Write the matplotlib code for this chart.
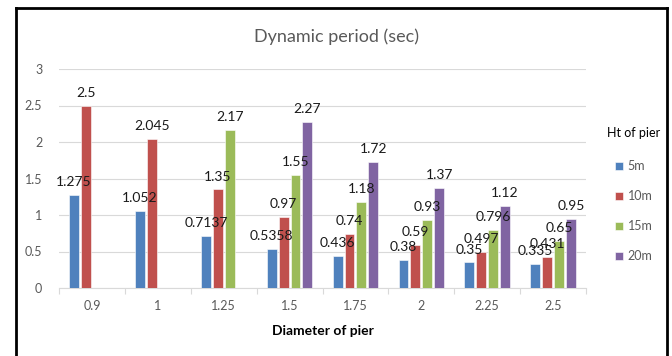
import numpy as np
import matplotlib
matplotlib.use('Agg')
import matplotlib.pyplot as plt
from matplotlib.lines import Line2D

# Dynamic period of the pier for each diameter, grouped by pier height
diameters = ['0.9', '1', '1.25', '1.5', '1.75', '2', '2.25', '2.5']
ht_labels = ['5m', '10m', '15m', '20m']
period_5m = [1.275, 1.052, 0.7137, 0.5358, 0.436, 0.38, 0.35, 0.335]
period_10m = [2.5, 2.045, 1.35, 0.97, 0.74, 0.59, 0.497, 0.431]
period_15m = [np.nan, np.nan, 2.17, 1.55, 1.18, 0.93, 0.796, 0.65]
period_20m = [np.nan, np.nan, np.nan, 2.27, 1.72, 1.37, 1.12, 0.95]

COLORS = ['#4F81BD', '#C0504D', '#9BBB59', '#8064A2']
GREY_TEXT = '#595959'
GRID = '#D9D9D9'

plt.rcParams['font.family'] = ['Lato', 'DejaVu Sans']

fig = plt.figure(figsize=(6.72, 3.56), dpi=100)
ax = fig.add_axes([59 / 672, 1 - 288 / 356, (586 - 59) / 672, (288 - 69) / 356])

x = np.arange(len(diameters))
width = 0.15
step = 0.18
series = [period_5m, period_10m, period_15m, period_20m]
handles = []
for i, (vals, color, lab) in enumerate(zip(series, COLORS, ht_labels)):
    vals = np.array(vals, dtype=float)
    offs = (i - 1.5) * step
    bars = ax.bar(x + offs, np.nan_to_num(vals), width, color=color,
                  edgecolor='white', linewidth=0.4, label=lab, zorder=3)
    texts = ['' if np.isnan(v) else f'{v:g}' for v in vals]
    ax.bar_label(bars, labels=texts, padding=5, fontsize=10, color='#1a1a1a', zorder=4)
    handles.append(bars)

ax.set_xlim(-0.5, len(diameters) - 0.5)
ax.set_ylim(0, 3)
ax.set_yticks(np.arange(0, 3.01, 0.5))
ax.set_yticklabels(['0', '0.5', '1', '1.5', '2', '2.5', '3'])
ax.set_xticks(x)
ax.set_xticklabels(diameters)
ax.set_xticks(np.arange(-0.5, len(diameters)), minor=True)
ax.tick_params(axis='x', which='major', length=0, pad=9, labelsize=9, labelcolor=GREY_TEXT)
ax.tick_params(axis='x', which='minor', length=4, color=GRID, width=0.8)
ax.tick_params(axis='y', length=0, pad=12, labelsize=9, labelcolor=GREY_TEXT)

ax.grid(axis='y', color=GRID, linewidth=0.8, zorder=0)
for side in ['left', 'right', 'top']:
    ax.spines[side].set_visible(False)
ax.spines['bottom'].set_color(GRID)
ax.spines['bottom'].set_linewidth(0.8)

fig.text(336 / 672, 1 - 37 / 356, 'Dynamic period (sec)', ha='center', va='center',
         fontsize=13, color=GREY_TEXT)
fig.text(323 / 672, 1 - 331 / 356, 'Diameter of pier', ha='center', va='center',
         fontsize=10, fontweight='bold', color='black')

leg = fig.legend(handles=handles, labels=ht_labels, title='Ht of pier',
                 loc='upper left', bbox_to_anchor=(601 / 672, 1 - 121 / 356),
                 frameon=False, fontsize=9, title_fontsize=9,
                 handlelength=0.6, handleheight=0.6, handletextpad=0.4,
                 labelspacing=1.45, borderpad=0)
for t in leg.get_texts():
    t.set_color(GREY_TEXT)
leg._legend_box.sep = 15

# black frame around the chart
for xs, ys in [([15.5, 15.5], [356, 7.5]), ([15.5, 666.5], [7.5, 7.5]),
               ([666.5, 666.5], [7.5, 356])]:
    fig.add_artist(Line2D([v / 672 for v in xs], [1 - v / 356 for v in ys],
                          color='black', linewidth=2, transform=fig.transFigure))

fig.savefig('out.png', dpi=100)
